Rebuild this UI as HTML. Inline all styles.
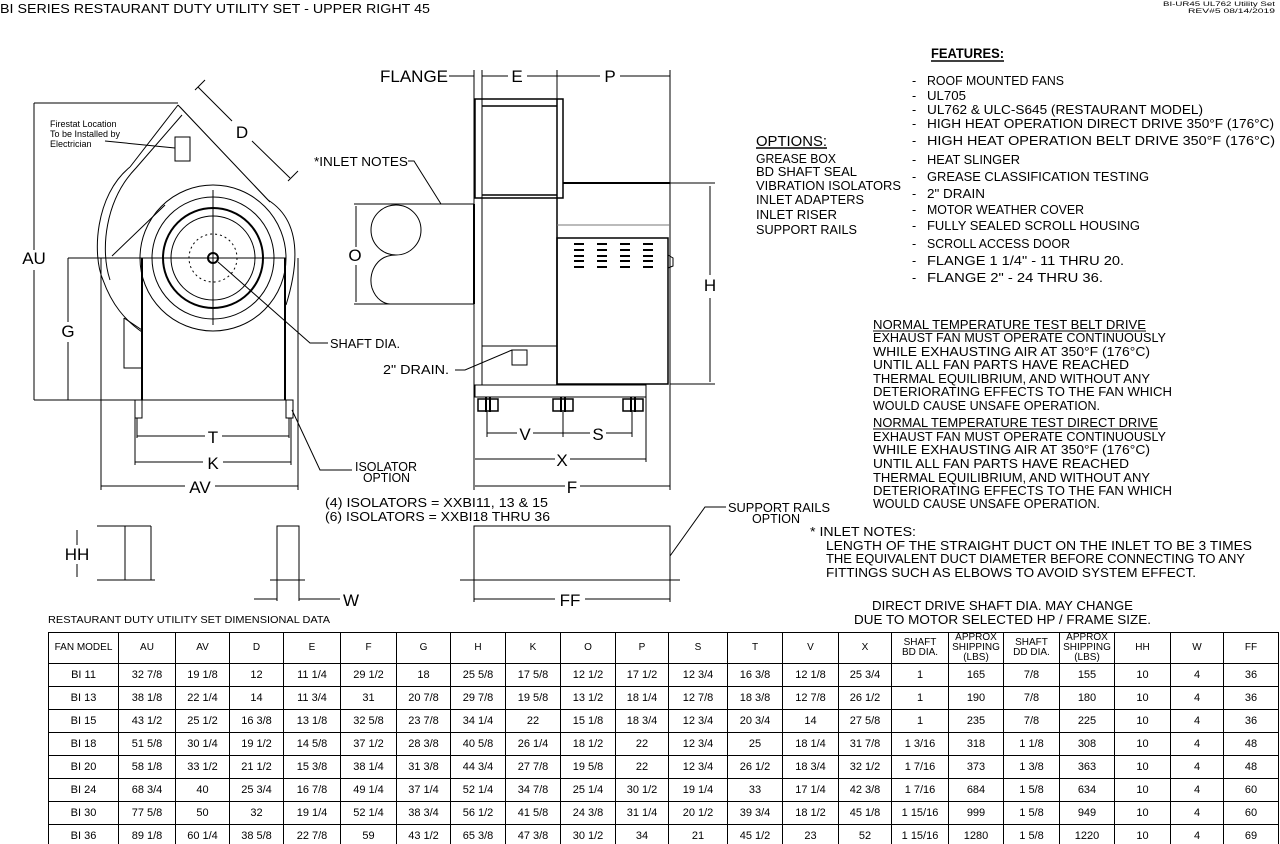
<!DOCTYPE html>
<html><head><meta charset="utf-8"><style>
html,body{margin:0;padding:0;background:#fff;width:1280px;height:844px;overflow:hidden;position:relative}
svg{position:absolute;left:0;top:0}
svg text{font-family:"Liberation Sans",sans-serif;fill:#000}
table{position:absolute;left:48px;top:632px;border-collapse:collapse;table-layout:fixed;width:1230px;font-family:"Liberation Sans",sans-serif;font-size:11px}
td{border:1px solid #000;text-align:center;padding:0;height:22px;line-height:10px}
tr.h td{height:24px;font-size:10px}
</style></head><body>
<svg width="1280" height="844" viewBox="0 0 1280 844" fill="none" stroke="#000" stroke-width="1">
<g stroke="none" font-size="12">
<text x="0" y="13" textLength="430" lengthAdjust="spacingAndGlyphs" font-size="13">BI SERIES RESTAURANT DUTY UTILITY SET - UPPER RIGHT 45</text>
<text x="1163" y="6" textLength="112" lengthAdjust="spacingAndGlyphs" font-size="6">BI-UR45 UL762 Utility Set</text>
<text x="1188" y="13" textLength="87" lengthAdjust="spacingAndGlyphs" font-size="6">REV#5 08/14/2019</text>
<text x="931" y="58" textLength="73" lengthAdjust="spacingAndGlyphs" font-size="14" font-weight="bold">FEATURES:</text>
<g font-size="12.5">
<text x="912" y="85">-</text><text x="927" y="85" textLength="137" lengthAdjust="spacingAndGlyphs">ROOF MOUNTED FANS</text>
<text x="912" y="100">-</text><text x="927" y="100" textLength="39" lengthAdjust="spacingAndGlyphs">UL705</text>
<text x="912" y="114">-</text><text x="927" y="114" textLength="276" lengthAdjust="spacingAndGlyphs">UL762 &amp; ULC-S645 (RESTAURANT MODEL)</text>
<text x="912" y="128">-</text><text x="927" y="128" textLength="347" lengthAdjust="spacingAndGlyphs">HIGH HEAT OPERATION DIRECT DRIVE 350°F (176°C)</text>
<text x="912" y="145">-</text><text x="927" y="145" textLength="348" lengthAdjust="spacingAndGlyphs">HIGH HEAT OPERATION BELT DRIVE 350°F (176°C)</text>
<text x="912" y="164">-</text><text x="927" y="164" textLength="93" lengthAdjust="spacingAndGlyphs">HEAT SLINGER</text>
<text x="912" y="181">-</text><text x="927" y="181" textLength="222" lengthAdjust="spacingAndGlyphs">GREASE CLASSIFICATION TESTING</text>
<text x="912" y="198">-</text><text x="927" y="198" textLength="58" lengthAdjust="spacingAndGlyphs">2" DRAIN</text>
<text x="912" y="214">-</text><text x="927" y="214" textLength="157" lengthAdjust="spacingAndGlyphs">MOTOR WEATHER COVER</text>
<text x="912" y="230">-</text><text x="927" y="230" textLength="213" lengthAdjust="spacingAndGlyphs">FULLY SEALED SCROLL HOUSING</text>
<text x="912" y="248">-</text><text x="927" y="248" textLength="143" lengthAdjust="spacingAndGlyphs">SCROLL ACCESS DOOR</text>
<text x="912" y="265">-</text><text x="927" y="265" textLength="197" lengthAdjust="spacingAndGlyphs">FLANGE 1 1/4" - 11 THRU 20.</text>
<text x="912" y="282">-</text><text x="927" y="282" textLength="176" lengthAdjust="spacingAndGlyphs">FLANGE 2" - 24 THRU 36.</text>
</g>
<text x="756" y="146" textLength="71" lengthAdjust="spacingAndGlyphs" font-size="15">OPTIONS:</text>
<g font-size="12.5">
<text x="756" y="163" textLength="80" lengthAdjust="spacingAndGlyphs">GREASE BOX</text>
<text x="756" y="176" textLength="101" lengthAdjust="spacingAndGlyphs">BD SHAFT SEAL</text>
<text x="756" y="190" textLength="145" lengthAdjust="spacingAndGlyphs">VIBRATION ISOLATORS</text>
<text x="756" y="204" textLength="108" lengthAdjust="spacingAndGlyphs">INLET ADAPTERS</text>
<text x="756" y="219" textLength="81" lengthAdjust="spacingAndGlyphs">INLET RISER</text>
<text x="756" y="234" textLength="101" lengthAdjust="spacingAndGlyphs">SUPPORT RAILS</text>
<text x="873" y="329" textLength="273" lengthAdjust="spacingAndGlyphs">NORMAL TEMPERATURE TEST BELT DRIVE</text>
<text x="873" y="342" textLength="293" lengthAdjust="spacingAndGlyphs">EXHAUST FAN MUST OPERATE CONTINUOUSLY</text>
<text x="873" y="356" textLength="277" lengthAdjust="spacingAndGlyphs">WHILE EXHAUSTING AIR AT 350°F (176°C)</text>
<text x="873" y="369" textLength="256" lengthAdjust="spacingAndGlyphs">UNTIL ALL FAN PARTS HAVE REACHED</text>
<text x="873" y="383" textLength="277" lengthAdjust="spacingAndGlyphs">THERMAL EQUILIBRIUM, AND WITHOUT ANY</text>
<text x="873" y="396" textLength="299" lengthAdjust="spacingAndGlyphs">DETERIORATING EFFECTS TO THE FAN WHICH</text>
<text x="873" y="410" textLength="227" lengthAdjust="spacingAndGlyphs">WOULD CAUSE UNSAFE OPERATION.</text>
<text x="873" y="427" textLength="285" lengthAdjust="spacingAndGlyphs">NORMAL TEMPERATURE TEST DIRECT DRIVE</text>
<text x="873" y="441" textLength="293" lengthAdjust="spacingAndGlyphs">EXHAUST FAN MUST OPERATE CONTINUOUSLY</text>
<text x="873" y="454" textLength="277" lengthAdjust="spacingAndGlyphs">WHILE EXHAUSTING AIR AT 350°F (176°C)</text>
<text x="873" y="468" textLength="256" lengthAdjust="spacingAndGlyphs">UNTIL ALL FAN PARTS HAVE REACHED</text>
<text x="873" y="482" textLength="277" lengthAdjust="spacingAndGlyphs">THERMAL EQUILIBRIUM, AND WITHOUT ANY</text>
<text x="873" y="495" textLength="299" lengthAdjust="spacingAndGlyphs">DETERIORATING EFFECTS TO THE FAN WHICH</text>
<text x="873" y="508" textLength="227" lengthAdjust="spacingAndGlyphs">WOULD CAUSE UNSAFE OPERATION.</text>
<text x="810" y="536" textLength="106" lengthAdjust="spacingAndGlyphs">* INLET NOTES:</text>
<text x="826" y="550" textLength="426" lengthAdjust="spacingAndGlyphs">LENGTH OF THE STRAIGHT DUCT ON THE INLET TO BE 3 TIMES</text>
<text x="826" y="563" textLength="419" lengthAdjust="spacingAndGlyphs">THE EQUIVALENT DUCT DIAMETER BEFORE CONNECTING TO ANY</text>
<text x="826" y="577" textLength="370" lengthAdjust="spacingAndGlyphs">FITTINGS SUCH AS ELBOWS TO AVOID SYSTEM EFFECT.</text>
<text x="872" y="610" textLength="261" lengthAdjust="spacingAndGlyphs">DIRECT DRIVE SHAFT DIA. MAY CHANGE</text>
<text x="854" y="624" textLength="297" lengthAdjust="spacingAndGlyphs">DUE TO MOTOR SELECTED HP / FRAME SIZE.</text>
<text x="325" y="507" textLength="223" lengthAdjust="spacingAndGlyphs">(4) ISOLATORS = XXBI11, 13 &amp; 15</text>
<text x="325" y="521" textLength="225" lengthAdjust="spacingAndGlyphs">(6) ISOLATORS = XXBI18 THRU 36</text>
<text x="728" y="512" textLength="102" lengthAdjust="spacingAndGlyphs">SUPPORT RAILS</text>
<text x="752" y="523" textLength="48" lengthAdjust="spacingAndGlyphs">OPTION</text>
<text x="314" y="166" textLength="94" lengthAdjust="spacingAndGlyphs">*INLET NOTES</text>
<text x="330" y="348" textLength="70" lengthAdjust="spacingAndGlyphs">SHAFT DIA.</text>
<text x="383" y="374" textLength="66" lengthAdjust="spacingAndGlyphs">2" DRAIN.</text>
<text x="355" y="471" textLength="62" lengthAdjust="spacingAndGlyphs">ISOLATOR</text>
<text x="363" y="482" textLength="47" lengthAdjust="spacingAndGlyphs">OPTION</text>
</g>
<text x="48" y="623" textLength="282" lengthAdjust="spacingAndGlyphs" font-size="10">RESTAURANT DUTY UTILITY SET DIMENSIONAL DATA</text>
<g font-size="9">
<text x="50" y="127">Firestat Location</text>
<text x="50" y="137">To be Installed by</text>
<text x="50" y="147">Electrician</text>
</g>
<g font-size="17" text-anchor="middle">
<text x="34" y="264">AU</text><text x="68" y="337">G</text><text x="242" y="138">D</text>
<text x="213" y="443">T</text><text x="213" y="469">K</text><text x="200" y="493">AV</text>
<text x="414" y="82">FLANGE</text><text x="517" y="82">E</text><text x="610" y="82">P</text>
<text x="710" y="291">H</text><text x="355" y="261">O</text>
<text x="525" y="440">V</text><text x="598" y="440">S</text><text x="562" y="466">X</text><text x="572" y="493">F</text>
<text x="77" y="560">HH</text><text x="351" y="606">W</text><text x="570" y="606">FF</text>
</g>
</g>
<line x1="931" y1="61" x2="1004" y2="61" stroke-width="1.5"/>
<line x1="756" y1="148" x2="827" y2="148" stroke-width="1.5"/>
<line x1="873" y1="331" x2="1146" y2="331"/>
<line x1="873" y1="429" x2="1158" y2="429"/>
<line x1="34" y1="103" x2="178" y2="103"/>
<line x1="34" y1="400" x2="290" y2="400"/>
<line x1="34" y1="103" x2="34" y2="250"/><line x1="34" y1="270" x2="34" y2="400"/>
<line x1="68" y1="258" x2="68" y2="322"/><line x1="68" y1="342" x2="68" y2="400"/>
<line x1="68" y1="258" x2="286" y2="258"/>
<path d="M178 105 L268 200 M180 107 L270 202 M178 105 L130 167"/>
<path d="M130 167 C95 195 92 255 103 280 C112 305 125 320 142 332"/>
<path d="M182 115 L136 168 C105 200 100 250 110 280"/>
<path d="M268 200 C300 220 300 260 286 305"/>
<circle cx="213" cy="258" r="73"/>
<circle cx="213" cy="258" r="61"/>
<circle cx="213" cy="258" r="50" stroke-width="2"/>
<circle cx="213" cy="258" r="42"/>
<circle cx="213" cy="258" r="24" stroke-dasharray="2 3"/>
<circle cx="213" cy="258" r="5" stroke-width="2"/>
<line x1="213" y1="190" x2="213" y2="325"/>
<line x1="110" y1="258" x2="286" y2="258"/>
<line x1="112" y1="256" x2="165" y2="205"/>
<line x1="142" y1="258" x2="142" y2="400" stroke-width="2"/>
<line x1="285" y1="258" x2="285" y2="400" stroke-width="2"/>
<line x1="101" y1="258" x2="101" y2="490"/>
<line x1="298" y1="258" x2="298" y2="490"/>
<rect x="135" y="400" width="7" height="18"/><rect x="286" y="400" width="7" height="18"/>
<line x1="137" y1="418" x2="137" y2="438"/><line x1="289" y1="418" x2="289" y2="438"/>
<line x1="135" y1="418" x2="135" y2="465"/><line x1="291" y1="418" x2="291" y2="465"/>
<line x1="137" y1="436" x2="205" y2="436"/><line x1="222" y1="436" x2="289" y2="436"/>
<line x1="135" y1="462" x2="203" y2="462"/><line x1="223" y1="462" x2="291" y2="462"/>
<line x1="101" y1="486" x2="185" y2="486"/><line x1="215" y1="486" x2="298" y2="486"/>
<path d="M198 87 L232 121 M252 141 L290 178 M195 90 L205 80 M288 181 L298 171"/>
<rect x="175" y="137" width="15" height="24"/>
<line x1="105" y1="141" x2="175" y2="148"/>
<path d="M124 318 L124 368 L142 368 M124 318 L142 330" />
<path d="M218 262 L310 343 L328 343"/>
<path d="M292 410 L320 470 L352 470"/>
<line x1="449" y1="76" x2="474" y2="76"/>
<line x1="482" y1="76" x2="508" y2="76"/><line x1="527" y1="76" x2="600" y2="76"/><line x1="620" y1="76" x2="670" y2="76"/>
<line x1="474" y1="70" x2="474" y2="490"/>
<line x1="482" y1="70" x2="482" y2="99"/>
<line x1="557" y1="70" x2="557" y2="99"/>
<line x1="670" y1="70" x2="670" y2="490"/>
<rect x="475" y="99" width="88" height="99" stroke-width="1.5"/>
<line x1="482" y1="106" x2="557" y2="106" stroke-width="1.5"/>
<line x1="482" y1="195" x2="557" y2="195" stroke-width="1.5"/>
<line x1="482" y1="99" x2="482" y2="385"/><line x1="557" y1="99" x2="557" y2="385" stroke-width="1.5"/>
<line x1="482" y1="346" x2="557" y2="346"/>
<line x1="563" y1="183" x2="670" y2="183" stroke-width="2"/>
<line x1="557" y1="225" x2="670" y2="225" stroke="#777"/>
<rect x="557" y="238" width="111" height="146" stroke-width="1.5"/>
<line x1="670" y1="183" x2="715" y2="183"/><line x1="670" y1="384" x2="715" y2="384"/>
<line x1="710" y1="186" x2="710" y2="275"/><line x1="710" y1="298" x2="710" y2="382"/>
<path d="M668 255 L673 258 L673 266 L668 268" />
<g stroke-width="2">
<path d="M574 244h10M574 250h10M574 256h10M574 261h10M574 267h10"/>
<path d="M597 244h10M597 250h10M597 256h10M597 261h10M597 267h10"/>
<path d="M620 244h10M620 250h10M620 256h10M620 261h10M620 267h10"/>
<path d="M643 244h10M643 250h10M643 256h10M643 261h10M643 267h10"/>
</g>
<rect x="475" y="385" width="171" height="12"/>
<g stroke-width="1.5">
<rect x="478" y="399" width="20" height="12"/><rect x="553" y="399" width="20" height="12"/><rect x="623" y="399" width="20" height="12"/>
</g>
<path d="M486 397v15M490 397v15M561 397v15M565 397v15M631 397v15M635 397v15" stroke-width="2"/>
<line x1="487" y1="412" x2="487" y2="437"/><line x1="563" y1="412" x2="563" y2="437"/><line x1="632" y1="412" x2="632" y2="437"/>
<line x1="487" y1="433" x2="517" y2="433"/><line x1="533" y1="433" x2="590" y2="433"/><line x1="606" y1="433" x2="632" y2="433"/>
<line x1="646" y1="397" x2="646" y2="462"/>
<line x1="475" y1="459" x2="555" y2="459"/><line x1="570" y1="459" x2="646" y2="459"/>
<line x1="475" y1="486" x2="565" y2="486"/><line x1="580" y1="486" x2="670" y2="486"/>
<rect x="512" y="350" width="15" height="15"/>
<path d="M455 370 L465 370 L512 350"/>
<line x1="354" y1="204" x2="474" y2="204"/><line x1="354" y1="304" x2="474" y2="304"/>
<line x1="474" y1="204" x2="474" y2="304" stroke-width="2"/>
<line x1="356" y1="206" x2="356" y2="247"/><line x1="356" y1="265" x2="356" y2="302"/>
<circle cx="396" cy="230" r="25"/>
<path d="M396 255 C375 255 368 275 372 288 C376 300 385 304 390 304"/>
<path d="M408 161 L414 161 L441 204"/>
<line x1="97" y1="526" x2="151" y2="526"/><line x1="97" y1="580" x2="155" y2="580"/>
<line x1="125" y1="526" x2="125" y2="580"/><line x1="151" y1="526" x2="151" y2="580"/>
<line x1="77" y1="530" x2="77" y2="545"/><line x1="77" y1="564" x2="77" y2="577"/>
<rect x="277" y="526" width="22" height="54"/>
<line x1="270" y1="580" x2="305" y2="580"/>
<line x1="277" y1="580" x2="277" y2="601"/><line x1="299" y1="580" x2="299" y2="601"/>
<line x1="254" y1="599" x2="277" y2="599"/><line x1="299" y1="599" x2="340" y2="599"/>
<rect x="474" y="526" width="196" height="54"/>
<line x1="460" y1="580" x2="680" y2="580"/>
<line x1="474" y1="580" x2="474" y2="602"/><line x1="670" y1="580" x2="670" y2="602"/>
<line x1="474" y1="599" x2="555" y2="599"/><line x1="585" y1="599" x2="670" y2="599"/>
<path d="M670 556 L705 507 L726 507"/>
</svg>
<table>
<colgroup><col style="width:70px"><col style="width:57px"><col style="width:54px"><col style="width:54px"><col style="width:57px"><col style="width:56px"><col style="width:54px"><col style="width:55px"><col style="width:55px"><col style="width:55px"><col style="width:53px"><col style="width:59px"><col style="width:55px"><col style="width:56px"><col style="width:53px"><col style="width:57px"><col style="width:55px"><col style="width:56px"><col style="width:55px"><col style="width:56px"><col style="width:53px"><col style="width:55px"></colgroup>
<tr class="h"><td>FAN MODEL</td><td>AU</td><td>AV</td><td>D</td><td>E</td><td>F</td><td>G</td><td>H</td><td>K</td><td>O</td><td>P</td><td>S</td><td>T</td><td>V</td><td>X</td><td>SHAFT<br>BD DIA.</td><td>APPROX<br>SHIPPING<br>(LBS)</td><td>SHAFT<br>DD DIA.</td><td>APPROX<br>SHIPPING<br>(LBS)</td><td>HH</td><td>W</td><td>FF</td></tr>
<tr><td>BI 11</td><td>32 7/8</td><td>19 1/8</td><td>12</td><td>11 1/4</td><td>29 1/2</td><td>18</td><td>25 5/8</td><td>17 5/8</td><td>12 1/2</td><td>17 1/2</td><td>12 3/4</td><td>16 3/8</td><td>12 1/8</td><td>25 3/4</td><td>1</td><td>165</td><td>7/8</td><td>155</td><td>10</td><td>4</td><td>36</td></tr>
<tr><td>BI 13</td><td>38 1/8</td><td>22 1/4</td><td>14</td><td>11 3/4</td><td>31</td><td>20 7/8</td><td>29 7/8</td><td>19 5/8</td><td>13 1/2</td><td>18 1/4</td><td>12 7/8</td><td>18 3/8</td><td>12 7/8</td><td>26 1/2</td><td>1</td><td>190</td><td>7/8</td><td>180</td><td>10</td><td>4</td><td>36</td></tr>
<tr><td>BI 15</td><td>43 1/2</td><td>25 1/2</td><td>16 3/8</td><td>13 1/8</td><td>32 5/8</td><td>23 7/8</td><td>34 1/4</td><td>22</td><td>15 1/8</td><td>18 3/4</td><td>12 3/4</td><td>20 3/4</td><td>14</td><td>27 5/8</td><td>1</td><td>235</td><td>7/8</td><td>225</td><td>10</td><td>4</td><td>36</td></tr>
<tr><td>BI 18</td><td>51 5/8</td><td>30 1/4</td><td>19 1/2</td><td>14 5/8</td><td>37 1/2</td><td>28 3/8</td><td>40 5/8</td><td>26 1/4</td><td>18 1/2</td><td>22</td><td>12 3/4</td><td>25</td><td>18 1/4</td><td>31 7/8</td><td>1 3/16</td><td>318</td><td>1 1/8</td><td>308</td><td>10</td><td>4</td><td>48</td></tr>
<tr><td>BI 20</td><td>58 1/8</td><td>33 1/2</td><td>21 1/2</td><td>15 3/8</td><td>38 1/4</td><td>31 3/8</td><td>44 3/4</td><td>27 7/8</td><td>19 5/8</td><td>22</td><td>12 3/4</td><td>26 1/2</td><td>18 3/4</td><td>32 1/2</td><td>1 7/16</td><td>373</td><td>1 3/8</td><td>363</td><td>10</td><td>4</td><td>48</td></tr>
<tr><td>BI 24</td><td>68 3/4</td><td>40</td><td>25 3/4</td><td>16 7/8</td><td>49 1/4</td><td>37 1/4</td><td>52 1/4</td><td>34 7/8</td><td>25 1/4</td><td>30 1/2</td><td>19 1/4</td><td>33</td><td>17 1/4</td><td>42 3/8</td><td>1 7/16</td><td>684</td><td>1 5/8</td><td>634</td><td>10</td><td>4</td><td>60</td></tr>
<tr><td>BI 30</td><td>77 5/8</td><td>50</td><td>32</td><td>19 1/4</td><td>52 1/4</td><td>38 3/4</td><td>56 1/2</td><td>41 5/8</td><td>24 3/8</td><td>31 1/4</td><td>20 1/2</td><td>39 3/4</td><td>18 1/2</td><td>45 1/8</td><td>1 15/16</td><td>999</td><td>1 5/8</td><td>949</td><td>10</td><td>4</td><td>60</td></tr>
<tr><td>BI 36</td><td>89 1/8</td><td>60 1/4</td><td>38 5/8</td><td>22 7/8</td><td>59</td><td>43 1/2</td><td>65 3/8</td><td>47 3/8</td><td>30 1/2</td><td>34</td><td>21</td><td>45 1/2</td><td>23</td><td>52</td><td>1 15/16</td><td>1280</td><td>1 5/8</td><td>1220</td><td>10</td><td>4</td><td>69</td></tr>
</table>
</body></html>
